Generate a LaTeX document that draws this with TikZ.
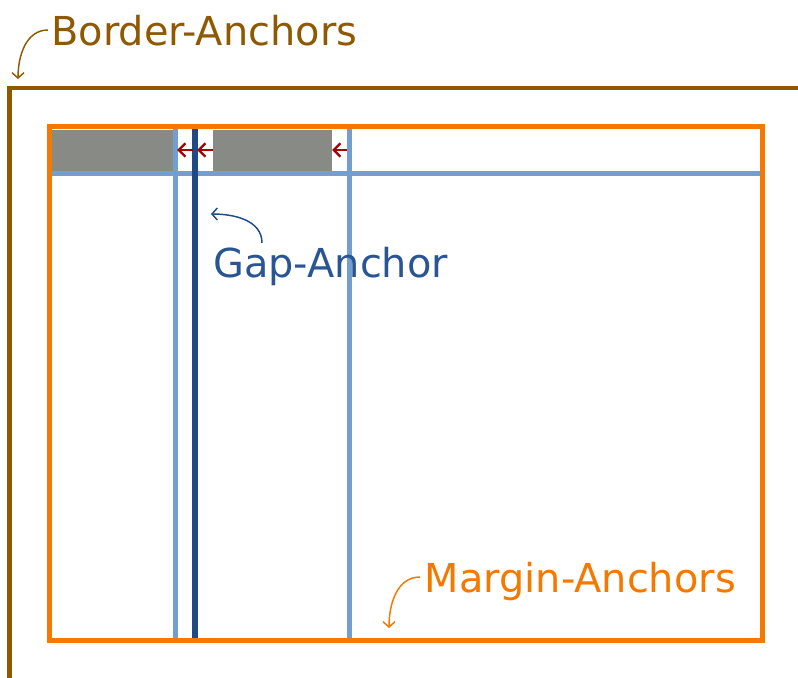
\documentclass[tikz,border=0pt]{standalone}
\usepackage{fontspec}
\setmainfont{DejaVu Sans}
\usetikzlibrary{arrows.meta}
\definecolor{cbrown}{HTML}{8F5902}
\definecolor{corange}{HTML}{F57900}
\definecolor{clblue}{HTML}{729FCF}
\definecolor{cdblue}{HTML}{204A87}
\definecolor{ctblue}{HTML}{2A5595}
\definecolor{cgray}{HTML}{888A85}
\definecolor{cred}{HTML}{A40000}
\tikzset{
  lbl/.style={inner sep=0pt, anchor=base west, font=\fontsize{29.9}{32}\selectfont},
  note/.style={line width=1.1pt, -{Straight Barb[length=4pt,width=9pt]}},
  gridline/.style={line width=3.75pt, clblue},
  gapline/.style={line width=4pt, cdblue},
  cell/.style={fill=cgray, draw=none},
  redarr/.style={cred, line width=1.8pt, -{Straight Barb[length=5pt,width=10pt]}},
}
\begin{document}
\begin{tikzpicture}[x=0.75pt,y=-0.75pt]
\useasboundingbox (0,0) rectangle (798,677);
% gray cells
\fill[cell] (52,130) rectangle (173,171);
\fill[cell] (213,130) rectangle (332,171);
% grid lines
\draw[gridline] (52,173.5) -- (762,173.5);
\draw[gridline] (175.5,129) -- (175.5,638);
\draw[gridline] (349,129) -- (349,638);
\draw[gapline] (195,129) -- (195,638);
% red arrows
\coordinate (r1s) at (193,150); \coordinate (r1e) at (177,150);
\coordinate (r2s) at (213,150); \coordinate (r2e) at (197,150);
\coordinate (r3s) at (347,150); \coordinate (r3e) at (332,150);
\draw[redarr] (r1s) -- (r1e);
\draw[redarr] (r2s) -- (r2e);
\draw[redarr] (r3s) -- (r3e);
% margin rectangle
\draw[corange, line width=3.75pt] (49.5,127) rectangle (762,640);
% border
\draw[cbrown, line width=3.6pt] (9.5,690) -- (9.5,88) -- (810,88);
% labels
\node[lbl, text=cbrown] (border) at (51,46) {Border-Anchors};
\node[lbl, text=ctblue] (gap) at (213,277) {Gap-Anchor};
\node[lbl, text=corange] (margin) at (424.5,592) {Margin-Anchors};
% annotation arrows
\coordinate (b1) at (48,30); \coordinate (b2) at (18,79);
\coordinate (g1) at (262,243); \coordinate (g2) at (211,214);
\coordinate (m1) at (420,577); \coordinate (m2) at (389,628);
\draw[note, cbrown] (b1) to[out=180,in=90] (b2);
\draw[note, cdblue] (g1) to[out=90,in=0] (g2);
\draw[note, corange] (m1) to[out=180,in=90] (m2);
\end{tikzpicture}
\end{document}
